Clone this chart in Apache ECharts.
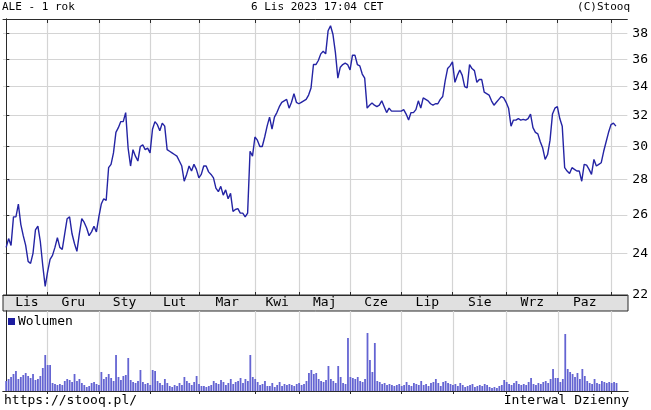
<!DOCTYPE html>
<html><head><meta charset="utf-8">
<script src="https://cdn.jsdelivr.net/npm/echarts@6/dist/echarts.min.js"></script>
<style>html,body{margin:0;padding:0;background:#fff}#c{width:651px;height:410px}</style>
</head><body><div id="c"></div>
<script>
// month names (Polish) and index of first trading day of each month
const monthNames = ['Lis','Gru','Sty','Lut','Mar','Kwi','Maj','Cze','Lip','Sie','Wrz','Paz'];
const monthStarts = [0,17,38,59,79,102,120,141,162,183,205,226,248];
const priceTicks = [22,24,26,28,30,32,34,36,38];

// daily close, ALE, Nov 2022 - Nov 2023 (trading days)
const price = [
24.3,24.75,24.4,25.9,25.9,26.6,25.5,24.9,24.4,23.6,
23.5,24.0,25.2,25.4,24.6,23.4,22.4,23.1,23.7,23.9,
24.3,24.8,24.3,24.2,25.0,25.8,25.9,25.0,24.5,24.1,
25.0,25.8,25.6,25.3,24.9,25.1,25.4,25.1,25.9,26.6,
26.9,26.8,28.7,28.9,29.6,30.9,31.2,31.6,31.6,32.2,
29.9,28.8,29.8,29.4,29.1,30.0,30.1,29.8,29.9,29.6,
31.1,31.6,31.4,31.0,31.5,31.3,29.8,29.7,29.6,29.5,
29.4,29.1,28.8,27.9,28.3,28.8,28.5,28.9,28.6,28.1,
28.3,28.8,28.8,28.45,28.3,28.1,27.5,27.3,27.6,27.1,
27.4,26.9,27.2,26.2,26.3,26.35,26.1,26.1,25.9,26.1,
29.7,29.4,30.6,30.4,30.0,30.0,30.6,31.3,31.9,31.1,
31.9,32.2,32.6,32.9,33.0,33.1,32.5,32.9,33.5,32.9,
32.8,32.9,33.0,33.1,33.4,33.9,35.6,35.6,35.9,36.4,
36.6,36.4,38.2,38.6,37.9,36.5,34.6,35.4,35.6,35.7,
35.6,35.2,36.3,36.3,35.6,35.5,34.9,34.6,32.5,32.7,
32.85,32.7,32.6,32.7,33.0,32.6,32.2,32.5,32.3,32.3,
32.3,32.3,32.3,32.4,32.1,31.7,32.2,32.2,32.4,33.0,
32.5,33.2,33.1,33.0,32.8,32.7,32.8,32.8,33.1,33.3,
34.4,35.3,35.5,35.8,34.3,34.8,35.2,34.8,34.0,33.9,
35.6,35.3,35.15,34.3,34.5,34.5,33.6,33.5,33.4,33.0,
32.7,32.9,33.1,33.3,33.2,32.9,32.5,31.3,31.7,31.7,
31.8,31.7,31.75,31.7,31.8,32.1,31.2,30.9,30.8,30.3,
29.9,29.2,29.5,30.4,32.1,32.5,32.6,31.8,31.3,28.7,
28.5,28.35,28.7,28.6,28.5,28.5,27.9,28.9,28.85,28.6,
28.3,29.2,28.8,28.9,29.0,29.7,30.3,30.9,31.4,31.5,
31.3
];

// daily volume (thousands of shares, estimated)
const volume = [
10,12,14,17,20,12,14,16,18,15,13,17,11,12,15,23,36,26,26,
8,7,6,7,6,10,12,11,9,17,10,12,8,6,4,5,8,9,7,6,
19,12,14,17,13,10,36,14,11,15,16,33,11,9,8,10,21,9,7,8,
6,21,20,10,8,6,12,8,5,4,6,5,8,6,14,10,8,6,9,15,
7,5,5,4,5,6,10,8,7,11,9,6,8,12,7,9,10,13,8,12,10,36,14,
12,9,6,7,10,5,5,8,4,6,9,5,7,6,7,6,5,7,
8,6,7,10,18,21,17,18,12,10,9,11,25,12,10,8,25,14,8,7,53,
14,13,12,14,10,9,12,58,31,19,48,10,9,7,8,6,7,6,5,6,7,
5,6,9,6,5,8,7,6,10,6,7,5,8,9,12,8,5,9,10,8,7,
6,7,5,8,6,4,5,6,7,4,5,6,5,7,6,4,3,4,3,5,6,11,
9,7,6,8,10,7,6,7,6,9,13,7,6,8,7,9,10,8,12,22,13,
13,9,12,57,22,19,17,14,18,12,22,15,10,8,7,12,8,7,10,9,8,9,
8,9,8
];

const FONT = 'DejaVu Sans Mono';
const XMIN = -1.3, XMAX = 254.7;
const gridStarts = monthStarts.slice(1);
const labelPos = monthNames.map((m, k) => (monthStarts[k] + monthStarts[k + 1]) / 2);
const frame = {color: '#2b2b2b', width: 1};
const gridLine = {color: '#d4d4d4', width: 1.2};

const chart = echarts.init(document.getElementById('c'), null, {renderer: 'canvas'});
chart.setOption({
  animation: false,
  backgroundColor: '#ffffff',
  grid: [
    {left: 3, right: 23, top: 19, height: 276},
    {left: 3, right: 23, top: 311, height: 80},
    {left: 3, right: 23, top: 295, height: 16, show: true, backgroundColor: '#e0e0e0', borderColor: '#2b2b2b', borderWidth: 1}
  ],
  xAxis: [
    {gridIndex: 0, type: 'value', min: XMIN, max: XMAX, position: 'bottom',
     axisLine: {show: true, lineStyle: frame},
     axisTick: {show: true, inside: true, length: 3, customValues: gridStarts, lineStyle: frame},
     axisLabel: {show: false}, splitLine: {show: true, lineStyle: gridLine}},
    {gridIndex: 0, type: 'value', min: XMIN, max: XMAX, position: 'top',
     axisLine: {show: true, lineStyle: frame},
     axisTick: {show: true, inside: true, length: 4, customValues: gridStarts, lineStyle: frame},
     axisLabel: {show: false}, splitLine: {show: false}},
    {gridIndex: 1, type: 'value', min: XMIN, max: XMAX, position: 'top',
     axisLine: {show: true, lineStyle: frame},
     axisTick: {show: true, inside: true, length: 3, customValues: gridStarts, lineStyle: frame},
     axisLabel: {show: false}, splitLine: {show: true, lineStyle: gridLine}},
    {gridIndex: 1, type: 'value', min: XMIN, max: XMAX, position: 'bottom',
     axisLine: {show: true, lineStyle: frame}, axisTick: {show: false},
     axisLabel: {show: false}, splitLine: {show: false}},
    {gridIndex: 2, type: 'value', min: XMIN, max: XMAX, position: 'bottom',
     axisLine: {show: false}, axisTick: {show: false}, splitLine: {show: false},
     axisLabel: {show: true, inside: true, margin: 8, verticalAlign: 'middle',
       customValues: labelPos,
       formatter: v => monthNames[labelPos.indexOf(v)] || '',
       fontFamily: FONT, fontSize: 13, color: '#000'}}
  ],
  yAxis: [
    {gridIndex: 0, type: 'log', logBase: 10, min: 22, max: 39.15, position: 'right',
     axisLine: {show: true, lineStyle: frame},
     axisTick: {show: true, inside: false, length: 3, customValues: priceTicks, lineStyle: frame},
     axisLabel: {show: true, customValues: priceTicks, margin: 5, fontFamily: FONT, fontSize: 13, color: '#000'},
     splitLine: {show: true, lineStyle: gridLine}},
    {gridIndex: 0, type: 'log', logBase: 10, min: 22, max: 39.15, position: 'left',
     axisLine: {show: true, lineStyle: frame},
     axisTick: {show: true, inside: true, length: 3, customValues: priceTicks, lineStyle: frame},
     axisLabel: {show: false}, splitLine: {show: false}},
    {gridIndex: 1, type: 'value', min: 0, max: 80, position: 'left',
     axisLine: {show: true, lineStyle: frame}, axisTick: {show: false},
     axisLabel: {show: false}, splitLine: {show: false}},
    {gridIndex: 1, type: 'value', min: 0, max: 80, position: 'right',
     axisLine: {show: true, lineStyle: frame}, axisTick: {show: false},
     axisLabel: {show: false}, splitLine: {show: false}},
    {gridIndex: 2, type: 'value', min: 0, max: 1, show: false}
  ],
  legend: {
    data: [{name: 'Wolumen', itemStyle: {color: '#1c1ca0'}}],
    left: 8, top: 315, icon: 'rect', itemWidth: 7, itemHeight: 7, itemGap: 4, padding: 0,
    selectedMode: false,
    textStyle: {fontFamily: FONT, fontSize: 13, color: '#000', padding: [0, 0, 0, -2]}
  },
  series: [
    {type: 'line', name: 'ALE', xAxisIndex: 0, yAxisIndex: 0,
     data: price.map((v, i) => [i, v]), symbol: 'none',
     lineStyle: {color: '#2424a4', width: 1.4}, itemStyle: {color: '#2424a4'}},
    {type: 'bar', name: 'Wolumen', xAxisIndex: 2, yAxisIndex: 2,
     data: volume.map((v, i) => [i, v]), barWidth: 1.8,
     itemStyle: {color: '#6464d2'}}
  ],
  graphic: [
    {type: 'text', left: 2, top: 2, style: {text: 'ALE - 1 rok', font: '11px ' + FONT, fill: '#000'}},
    {type: 'text', left: 251, top: 2, style: {text: '6 Lis 2023 17:04 CET', font: '11px ' + FONT, fill: '#000'}},
    {type: 'text', right: 21, top: 2, style: {text: '(C)Stooq', font: '11px ' + FONT, fill: '#000'}},
    {type: 'text', left: 4, top: 394, style: {text: 'https://stooq.pl/', font: '13px ' + FONT, fill: '#000'}},
    {type: 'text', right: 22, top: 394, style: {text: 'Interwal Dzienny', font: '13px ' + FONT, fill: '#000'}}
  ]
});
</script>
</body></html>
